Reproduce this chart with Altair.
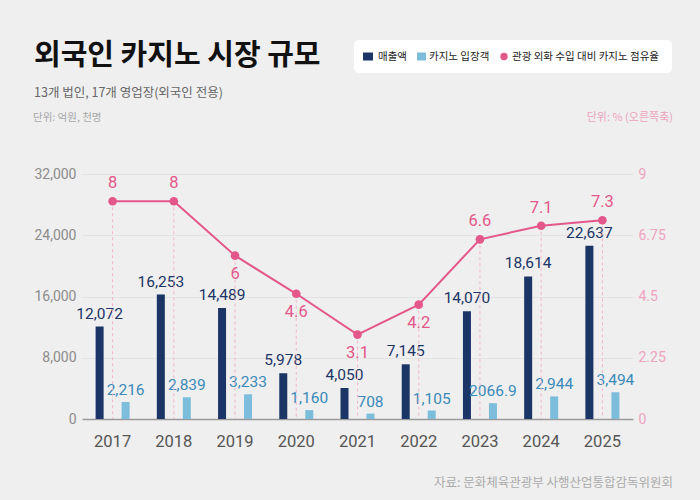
import altair as alt
import pandas as pd

# ---------------- data ----------------
years = ["2017", "2018", "2019", "2020", "2021", "2022", "2023", "2024", "2025"]
sales = [12072, 16253, 14489, 5978, 4050, 7145, 14070, 18614, 22637]
sales_labels = ["12,072", "16,253", "14,489", "5,978", "4,050", "7,145", "14,070", "18,614", "22,637"]
visitors = [2216, 2839, 3233, 1160, 708, 1105, 2066.9, 2944, 3494]
visitor_labels = ["2,216", "2,839", "3,233", "1,160", "708", "1,105", "2066.9", "2,944", "3,494"]
share = [8, 8, 6, 4.6, 3.1, 4.2, 6.6, 7.1, 7.3]
share_labels = ["8", "8", "6", "4.6", "3.1", "4.2", "6.6", "7.1", "7.3"]
share_label_below = ["2019", "2020", "2021", "2022"]

left_ticks = [0, 8000, 16000, 24000, 32000]
right_ticks = [0, 2.25, 4.5, 6.75, 9]

title_text = "외국인 카지노 시장 규모"
subtitle_text = "13개 법인, 17개 영업장(외국인 전용)"
unit_left_text = "단위: 억원, 천명"
unit_right_text = "단위: % (오른쪽축)"
source_text = "자료: 문화체육관광부 사행산업통합감독위원회"
legend_labels = ["매출액", "카지노 입장객", "관광 외화 수입 대비 카지노 점유율"]

# ---------------- style ----------------
NAVY = "#1b3566"
LIGHT = "#7cbddb"
LIGHT_TXT = "#3a8ab9"
PINK = "#e3578a"
PINK_LIGHT = "#eea3bf"
BG = "#efefef"
NUM_FONT = "Roboto, sans-serif"
KR_FONT = "Noto Sans CJK KR, Noto Sans, sans-serif"

df = pd.DataFrame({
    "year": years,
    "sales": sales,
    "sales_label": sales_labels,
    "visitors": visitors,
    "visitor_label": visitor_labels,
    "share": share,
    "share_label": share_labels,
})
df["below"] = df["year"].isin(share_label_below)

W, H = 551, 245

x_enc = alt.X("year:N", title=None, sort=years,
              scale=alt.Scale(paddingInner=0, paddingOuter=0),
              axis=alt.Axis(labelFont=NUM_FONT, labelFontSize=16.5, labelColor="#555555",
                            labelAngle=0, ticks=False, domainColor="#9a9a9a",
                            domainWidth=1.5, labelPadding=14))

yl_scale = alt.Scale(domain=[0, 32000])
yr_scale = alt.Scale(domain=[0, 9])

base = alt.Chart(df)

left_axis = alt.Axis(values=left_ticks, labelExpr="format(datum.value, ',')", title=None,
                     domain=False, ticks=False,
                     labelFont=NUM_FONT, labelFontSize=14, labelColor="#8c8c8c",
                     labelPadding=6, grid=True, gridColor="#e3e3e3", gridWidth=1)

dark_bars = base.mark_bar(width=8, xOffset=-13, color=NAVY).encode(
    x=x_enc, y=alt.Y("sales:Q", scale=yl_scale, axis=left_axis))
light_bars = base.mark_bar(width=8, xOffset=13, color=LIGHT).encode(
    x=x_enc, y=alt.Y("visitors:Q", scale=yl_scale))
dark_text = base.mark_text(xOffset=-13, dy=-8, baseline="alphabetic", font=NUM_FONT,
                           fontSize=15.5, color=NAVY).encode(
    x=x_enc, y=alt.Y("sales:Q", scale=yl_scale), text="sales_label:N")
light_text = base.mark_text(xOffset=13, dy=-7, baseline="alphabetic", font=NUM_FONT,
                            fontSize=15.5, color=LIGHT_TXT).encode(
    x=x_enc, y=alt.Y("visitors:Q", scale=yl_scale), text="visitor_label:N")

left = alt.layer(dark_bars, light_bars, dark_text, light_text)

right_axis = alt.Axis(orient="right", values=right_ticks, labelExpr="'' + datum.value",
                      title=None, domain=False, ticks=False, grid=False,
                      labelFont=NUM_FONT, labelFontSize=14, labelColor=PINK_LIGHT,
                      labelPadding=5)

rules = base.mark_rule(strokeDash=[3, 3], color="#f2b5ca", strokeWidth=1).encode(
    x=x_enc, y=alt.Y("share:Q", scale=yr_scale, axis=right_axis), y2=alt.datum(0))
line = base.mark_line(color=PINK, strokeWidth=2).encode(
    x=x_enc, y=alt.Y("share:Q", scale=yr_scale))
points = base.mark_circle(size=75, color=PINK, opacity=1).encode(
    x=x_enc, y=alt.Y("share:Q", scale=yr_scale))
share_above = base.transform_filter("!datum.below").mark_text(
    dy=-18, baseline="middle", font=NUM_FONT, fontSize=16.5, color=PINK).encode(
    x=x_enc, y=alt.Y("share:Q", scale=yr_scale), text="share_label:N")
share_below = base.transform_filter("datum.below").mark_text(
    dy=18, baseline="middle", font=NUM_FONT, fontSize=16.5, color=PINK).encode(
    x=x_enc, y=alt.Y("share:Q", scale=yr_scale), text="share_label:N")

right = alt.layer(rules, line, points, share_above, share_below)


def note(txt, x, y, size, color, align="left", weight="normal", font=KR_FONT):
    return alt.Chart(pd.DataFrame({"t": [txt]})).mark_text(
        align=align, baseline="middle", fontSize=size, color=color,
        fontWeight=weight, font=font).encode(
        x=alt.value(x), y=alt.value(y), text="t:N")


title = note(title_text, -48, -118, 29, "#111111", weight="bold")
subtitle = note(subtitle_text, -48, -81.5, 12.5, "#666666")
unit_l = note(unit_left_text, -49, -56, 10.5, "#a8a8a8")
unit_r = note(unit_right_text, 591, -56.5, 11, PINK_LIGHT, align="right")
source = note(source_text, 591, 308.5, 12.5, "#ababab", align="right")

legend_box = alt.Chart(pd.DataFrame({"a": [0]})).mark_rect(
    color="white", cornerRadius=5).encode(
    x=alt.value(272), x2=alt.value(590), y=alt.value(-134), y2=alt.value(-101))
sw_navy = alt.Chart(pd.DataFrame({"a": [0]})).mark_rect(color=NAVY).encode(
    x=alt.value(281), x2=alt.value(291), y=alt.value(-121.5), y2=alt.value(-113.5))
sw_light = alt.Chart(pd.DataFrame({"a": [0]})).mark_rect(color=LIGHT).encode(
    x=alt.value(335), x2=alt.value(344), y=alt.value(-121.5), y2=alt.value(-113.5))
sw_pink = alt.Chart(pd.DataFrame({"a": [0]})).mark_circle(color=PINK, size=55, opacity=1).encode(
    x=alt.value(422), y=alt.value(-117.5))
lg1 = note(legend_labels[0], 296, -117.5, 10.5, "#222222")
lg2 = note(legend_labels[1], 347, -117.5, 10.5, "#222222")
lg3 = note(legend_labels[2], 430, -117.5, 10.5, "#222222")

chart = alt.layer(
    left, right,
    title, subtitle, unit_l, unit_r, source,
    legend_box, sw_navy, sw_light, sw_pink, lg1, lg2, lg3,
).resolve_scale(y="independent").properties(
    width=W, height=H,
    autosize=alt.AutoSizeParams(type="none"),
    padding={"left": 82, "top": 174, "right": 67, "bottom": 81},
    background=BG,
).configure_view(stroke=None)

chart.save("out.html", embed_options={"renderer": "svg", "actions": False})
